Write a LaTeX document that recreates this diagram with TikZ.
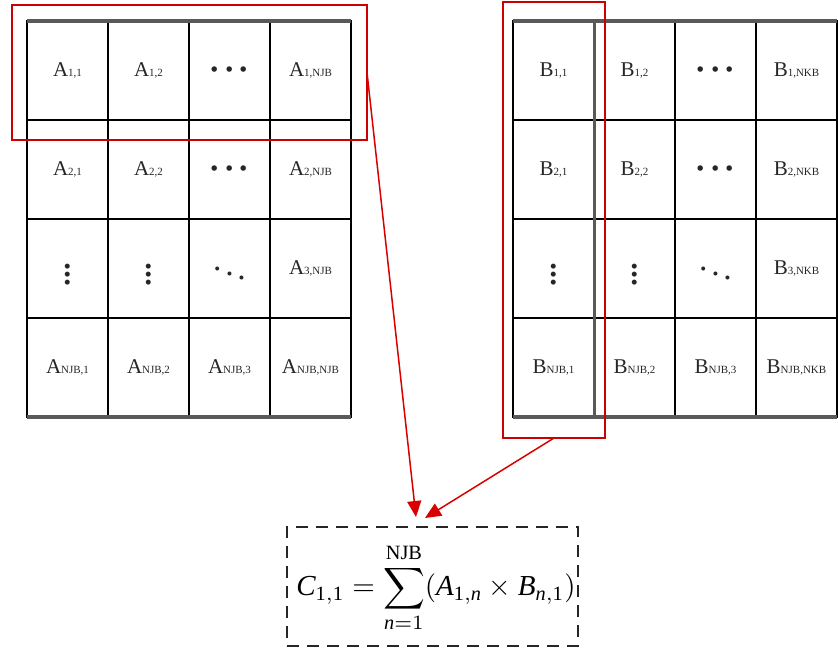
\documentclass[tikz,border=0pt]{standalone}
\usepackage{fontspec}
\setmainfont{Liberation Serif}
\usetikzlibrary{arrows.meta}
\newcommand\lbl[2]{#1\raisebox{-0.5pt}{\fontsize{11}{12}\selectfont #2}}
\newcommand\hdots{\scalebox{2.5}{${\cdot}{\cdot}{\cdot}$}}
\newcommand\vdts{\scalebox{2}{$\vdots$}}
\newcommand\ddts{\scalebox{1.6}{$\ddots$}}
\tikzset{
  cell/.style={draw=black, line width=1.6pt, minimum width=81pt, minimum height=99pt,
    inner sep=0pt, outer sep=0pt, anchor=north west, text=black!85, font=\fontsize{21}{24}\selectfont},
  gborder/.style={draw=black!65, line width=3.5pt},
  redbox/.style={draw=red!80!black, line width=1.8pt, inner sep=0pt, outer sep=0pt, anchor=north west},
  redarrow/.style={draw=red!85!black, line width=1.5pt, -{Triangle[length=16pt,width=14pt]}},
  fbox/.style={draw=black!85, line width=2.6pt, dash pattern=on 12pt off 8pt, inner sep=0pt, outer sep=0pt,
    minimum width=291pt, minimum height=119pt, anchor=north west}
}
\begin{document}
\begin{tikzpicture}[x=1pt,y=-1pt]
\useasboundingbox (0,0) rectangle (838,649);
% ---------- matrix A ----------
\node[cell] (a11) at (27,21)  {\lbl{A}{1,1}};
\node[cell] (a12) at (108,21) {\lbl{A}{1,2}};
\node[cell] (a13) at (189,21) {\hdots};
\node[cell] (a14) at (270,21) {\lbl{A}{1,NJB}};
\node[cell] (a21) at (27,120)  {\lbl{A}{2,1}};
\node[cell] (a22) at (108,120) {\lbl{A}{2,2}};
\node[cell] (a23) at (189,120) {\hdots};
\node[cell] (a24) at (270,120) {\lbl{A}{2,NJB}};
\node[cell] (a31) at (27,219)  {\vdts};
\node[cell] (a32) at (108,219) {\vdts};
\node[cell] (a33) at (189,219) {\ddts};
\node[cell] (a34) at (270,219) {\lbl{A}{3,NJB}};
\node[cell] (a41) at (27,318)  {\lbl{A}{NJB,1}};
\node[cell] (a42) at (108,318) {\lbl{A}{NJB,2}};
\node[cell] (a43) at (189,318) {\lbl{A}{NJB,3}};
\node[cell] (a44) at (270,318) {\lbl{A}{NJB,NJB}};
\draw[gborder] (a11.north west) -- (a14.north east);
\draw[gborder] (a41.south west) -- (a44.south east);
% ---------- matrix B ----------
\node[cell] (b11) at (513,21) {\lbl{B}{1,1}};
\node[cell] (b12) at (594,21) {\lbl{B}{1,2}};
\node[cell] (b13) at (675,21) {\hdots};
\node[cell] (b14) at (756,21) {\lbl{B}{1,NKB}};
\node[cell] (b21) at (513,120) {\lbl{B}{2,1}};
\node[cell] (b22) at (594,120) {\lbl{B}{2,2}};
\node[cell] (b23) at (675,120) {\hdots};
\node[cell] (b24) at (756,120) {\lbl{B}{2,NKB}};
\node[cell] (b31) at (513,219) {\vdts};
\node[cell] (b32) at (594,219) {\vdts};
\node[cell] (b33) at (675,219) {\ddts};
\node[cell] (b34) at (756,219) {\lbl{B}{3,NKB}};
\node[cell] (b41) at (513,318) {\lbl{B}{NJB,1}};
\node[cell] (b42) at (594,318) {\lbl{B}{NJB,2}};
\node[cell] (b43) at (675,318) {\lbl{B}{NJB,3}};
\node[cell] (b44) at (756,318) {\lbl{B}{NJB,NKB}};
\draw[gborder] (b11.north west) -- (b14.north east);
\draw[gborder] (b41.south west) -- (b44.south east);
\draw[draw=black!65, line width=3pt] (b11.north east) -- (b41.south east);
% ---------- red selection boxes ----------
\node[redbox, minimum width=355pt, minimum height=135pt] (ra) at (12,5) {};
\node[redbox, minimum width=102pt, minimum height=436pt] (rb) at (503,2) {};
% ---------- result ----------
\node[fbox] (fb) at (287,527) {};
\node[scale=2.9, inner sep=0pt] (f) at (436,588) {\normalsize
  $\displaystyle \mathit{C}_{\mathrm{1,1}} = \sum_{\mathit{n}=1}^{\mathrm{NJB}} (\mathit{A}_{\mathrm{1},\mathit{n}} \times \mathit{B}_{\mathit{n},\mathrm{1}})$};
\coordinate (tipA) at (416,517);
\coordinate (tipB) at (425,518);
\draw[redarrow] (ra.east) -- (tipA);
\draw[redarrow] (rb.south) -- (tipB);
\end{tikzpicture}
\end{document}
